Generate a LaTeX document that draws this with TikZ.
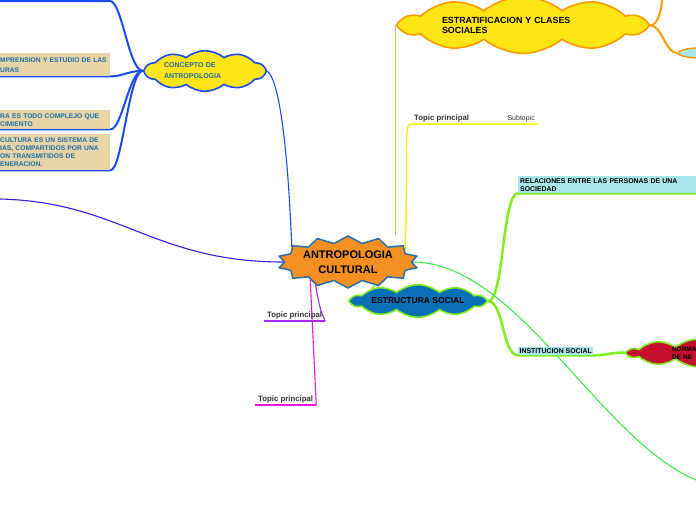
\documentclass[tikz,border=0pt]{standalone}
\usepackage{fontspec}
\setmainfont{Liberation Sans}
\usetikzlibrary{shapes.symbols,shapes.geometric,backgrounds}

\definecolor{centrefill}{HTML}{F39021}
\definecolor{centreline}{HTML}{2C6EAD}
\definecolor{cloudyellow}{HTML}{FFE516}
\definecolor{conceptblue}{HTML}{1A4CF0}
\definecolor{concepttext}{HTML}{1C6FA8}
\definecolor{tanbox}{HTML}{E9D4A7}
\definecolor{leftpurple}{HTML}{3B1AE8}
\definecolor{stratorange}{HTML}{FF9A00}
\definecolor{stemorange}{HTML}{F8B060}
\definecolor{topicyellow}{HTML}{F2F21A}
\definecolor{socialblue}{HTML}{0B6FB3}
\definecolor{limegreen}{HTML}{80EE1E}
\definecolor{thingreen}{HTML}{3CEE44}
\definecolor{cyanbox}{HTML}{A8E6EC}
\definecolor{normred}{HTML}{C4102E}
\definecolor{topicpurple}{HTML}{A52AF0}
\definecolor{topicmagenta}{HTML}{F018D8}
\definecolor{topictext}{HTML}{333333}

\begin{document}
\begin{tikzpicture}[x=1pt, y=-1pt,
    central/.style={starburst, starburst points=14, starburst point height=7pt, random starburst=0,
        draw=centreline, line width=1.5pt, fill=centrefill, minimum width=126pt, minimum height=52pt,
        inner sep=0pt, align=center, font=\bfseries\fontsize{11}{15}\selectfont},
    puffy/.style={cloud, cloud puffs=10, cloud puff arc=80, line width=1.6pt, inner sep=0pt, align=left},
    leaf/.style={fill=tanbox, text=concepttext, anchor=north west, inner sep=2pt, align=left,
        font=\bfseries\fontsize{6.7}{8}\selectfont},
    skyleaf/.style={fill=cyanbox, anchor=north west, inner sep=2pt, align=left,
        font=\bfseries\fontsize{6.9}{8}\selectfont},
    topiclabel/.style={text=topictext, anchor=south west, inner xsep=3pt, inner ysep=2pt,
        font=\bfseries\fontsize{7.8}{8}\selectfont},
    thickline/.style={line width=2pt},
    thinline/.style={line width=1.1pt}
]
\clip (0,0) rectangle (696,520);

% central topic
\node[central] (centre) at (348,262) {ANTROPOLOGIA\\CULTURAL};

% concepto de antropologia
\node[puffy, aspect=4, fill=cloudyellow, draw=conceptblue, text=concepttext, minimum width=120pt, minimum height=32pt,
      text width=82pt, font=\bfseries\fontsize{7}{11}\selectfont] (concept) at (205,71) {CONCEPTO DE\\ANTROPOLOGIA};
\node[leaf, text width=108pt, minimum height=23pt, font=\bfseries\fontsize{6.7}{10}\selectfont] (lcomp) at (-2,53) {MPRENSION Y ESTUDIO DE LAS\\URAS};
\node[leaf, text width=108pt, minimum height=19pt] (lcompl) at (-2,110) {RA ES TODO COMPLEJO QUE\\CIMIENTO};
\node[leaf, text width=108pt, minimum height=36pt] (lsist) at (-2,134) {CULTURA ES UN SISTEMA DE\\IAS, COMPARTIDOS POR UNA\\ON TRANSMITIDOS DE\\ENERACION.};
\coordinate (topbend) at (110,1);
\coordinate (topend) at (0,1);
\coordinate (leftend) at (0,199);

% estratificacion
\node[puffy, aspect=7, fill=cloudyellow, draw=stratorange, minimum width=244pt, minimum height=32pt, text width=162pt,
      font=\bfseries\fontsize{8.9}{10}\selectfont] (strat) at (523,25) {ESTRATIFICACION Y CLASES\\SOCIALES};
\node[ellipse, fill=cyanbox, draw=stratorange, line width=1.5pt, minimum width=60pt, minimum height=11pt,
      inner sep=0pt] (stratoval) at (708,53) {};
\coordinate (stratup) at (662,-2);

% topic principal / subtopic
\node[topiclabel] (ytopic) at (411,124) {Topic principal};
\node[topiclabel, anchor=south east, font=\fontsize{7}{8}\selectfont] (ysub) at (538,124) {Subtopic};

% estructura social
\node[puffy, aspect=7, fill=socialblue, draw=limegreen, minimum width=134pt, minimum height=18pt, align=center,
      font=\bfseries\fontsize{8.5}{9}\selectfont] (social) at (418,301) {ESTRUCTURA SOCIAL};
\node[skyleaf, text width=180pt] (relac) at (518,176) {RELACIONES ENTRE LAS PERSONAS DE UNA\\SOCIEDAD};
\node[skyleaf, inner sep=1.5pt] (instit) at (518,347) {INSTITUCION SOCIAL};
\node[puffy, aspect=5.5, fill=normred, draw=limegreen, minimum width=140pt, minimum height=24pt, text width=52pt,
      font=\bfseries\fontsize{6.5}{8}\selectfont] (norma) at (698,353) {NORMA\\DE NE};
\coordinate (greenend) at (696,480);

% lower topics
\node[topiclabel] (ptopic) at (264,321) {Topic principal};
\node[topiclabel] (mtopic) at (255,405) {Topic principal};

\begin{scope}[on background layer]
% blue branches
\draw[thickline, conceptblue] (concept.west) .. controls +(-14,0) and +(12,0) .. (topbend) -- (topend);
\draw[thickline, conceptblue] (concept.west) .. controls +(-14,0) and +(12,0) .. (lcomp.south east) -- (lcomp.south west);
\draw[thickline, conceptblue] (concept.west) .. controls +(-14,0) and +(12,0) .. (lcompl.south east) -- (lcompl.south west);
\draw[thickline, conceptblue] (concept.west) .. controls +(-14,0) and +(12,0) .. (lsist.south east) -- (lsist.south west);
\draw[thinline, conceptblue] (concept.east) .. controls +(12,8) and +(-4,-100) .. (centre.165);
\draw[thinline, leftpurple] (leftend) .. controls +(120,3) and +(-130,0) .. (centre.180);
% orange branches
\draw[line width=0.8pt, stemorange] (strat.west) -- (strat.west |- centre.north);
\draw[thickline, stratorange] (strat.east) .. controls +(8,0) and +(0,10) .. (stratup);
\draw[thickline, stratorange] (strat.east) .. controls +(12,0) and +(-12,0) .. (stratoval.west);
% yellow
\draw[topicyellow, line width=1.5pt] (centre.12) .. controls +(4,-100) and +(-8,0) .. (ytopic.south west) -- (ysub.south east);
% green
\draw[thinline, limegreen] (centre.-40) -- (social.165);
\draw[limegreen, line width=2.5pt] (social.east) .. controls +(16,0) and +(-16,0) .. (relac.south west) -- (relac.south east);
\draw[limegreen, line width=2.5pt] (social.east) .. controls +(16,0) and +(-16,0) .. (instit.south west) -- (instit.south east)
    .. controls +(15,0) and +(-15,0) .. (norma.west);
\draw[thingreen, thinline] (centre.east) .. controls +(104,0) and +(-96,-40) .. (greenend);
% purple and magenta
\draw[topicpurple, thinline] (centre.215) .. controls +(4,25) and +(-3,-6) .. (ptopic.south east);
\draw[topicpurple, thickline] (ptopic.south east) -- (ptopic.south west);
\draw[topicmagenta, thinline] (centre.205) -- (mtopic.south east);
\draw[topicmagenta, thickline] (mtopic.south east) -- (mtopic.south west);
\end{scope}
\end{tikzpicture}
\end{document}
